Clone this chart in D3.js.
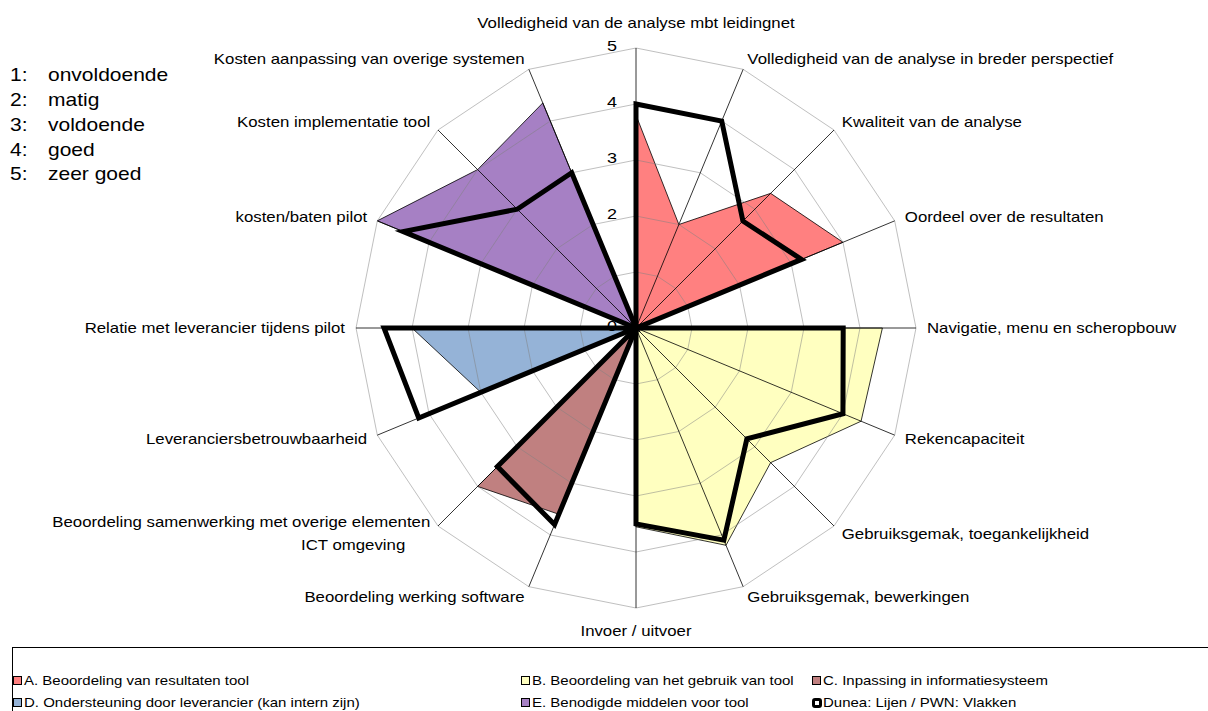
<!DOCTYPE html>
<html>
<head>
<meta charset="utf-8">
<script src="https://cdn.jsdelivr.net/npm/d3@7"></script>
<style>
  body { margin: 0; background: #fff; }
  svg { display: block; font-family: "Liberation Sans", Arial, sans-serif; }
</style>
</head>
<body>
<div id="chart"></div>
<script>
// axes of the radar, clockwise from the top
const axisLabels = [
  "Volledigheid van de analyse mbt leidingnet",
  "Volledigheid van de analyse in breder perspectief",
  "Kwaliteit van de analyse",
  "Oordeel over de resultaten",
  "Navigatie, menu en scheropbouw",
  "Rekencapaciteit",
  "Gebruiksgemak, toegankelijkheid",
  "Gebruiksgemak, bewerkingen",
  "Invoer / uitvoer",
  "Beoordeling werking software",
  ["Beoordeling samenwerking met overige elementen", "ICT omgeving"],
  "Leveranciersbetrouwbaarheid",
  "Relatie met leverancier tijdens pilot",
  "kosten/baten pilot",
  "Kosten implementatie tool",
  "Kosten aanpassing van overige systemen"
];
const ticks = [0, 1, 2, 3, 4, 5];
const tickLabels = [0, 2, 3, 4, 5];   // "1" is not shown in the original
const scoreNames = ["onvoldoende", "matig", "voldoende", "goed", "zeer goed"];

const groupNames = [
  "A. Beoordeling van resultaten tool",
  "B. Beoordeling van het gebruik van tool",
  "C. Inpassing in informatiesysteem",
  "D. Ondersteuning door leverancier (kan intern zijn)",
  "E. Benodigde middelen voor tool"
];
const groupColors = ["#FF8080", "#FFFFC0", "#C08080", "#95B3D7", "#A680C4"];
const groupStart = [0, 4, 9, 11, 13];   // first axis of each group

// PWN scores (filled areas)
const pwnA = [3.8, 2.0, 3.4, 4.0];
const pwnB = [4.4, 4.35, 3.4, 4.2, 3.55];
const pwnC = [3.6, 4.0];
const pwnD = [3.0, 4.0];
const pwnE = [5.0, 4.0, 4.35];

// Dunea scores (thick lines)
const duneaA = [4.0, 4.0, 2.7, 3.2];
const duneaB = [3.7, 4.0, 2.8, 4.1, 3.5];
const duneaC = [3.8, 3.5];
const duneaD = [4.2, 4.5];
const duneaE = [4.5, 3.0, 3.0];
const lineLegend = "Dunea: Lijen / PWN: Vlakken";

const pwn = [pwnA, pwnB, pwnC, pwnD, pwnE];
const dunea = [duneaA, duneaB, duneaC, duneaD, duneaE];

const width = 1208, height = 711;
const cx = 636, cy = 328, R = 280;
const n = axisLabels.length;
const sx = 1.2; // text is drawn a bit wider than the font

const svg = d3.select("#chart").append("svg")
  .attr("width", width).attr("height", height);

const r = d3.scaleLinear().domain([0, 5]).range([0, R]);
const angle = d3.scaleLinear().domain([0, n]).range([0, 2 * Math.PI]);

// put a group's values on the full circle, zero elsewhere
function spread(start, vals) {
  const a = new Array(n).fill(0);
  vals.forEach((v, i) => a[start + i] = v);
  return a;
}

function label(g, x, y, txt, anchor, size) {
  return g.append("text")
    .attr("transform", `translate(${x},${y}) scale(${sx},1)`)
    .attr("text-anchor", anchor)
    .attr("dy", "0.35em")
    .attr("font-size", size)
    .attr("fill", "#000")
    .text(txt);
}

const radar = svg.append("g").attr("transform", `translate(${cx},${cy})`);
const radial = d3.lineRadial()
  .angle((d, i) => angle(i))
  .radius(d => r(d))
  .curve(d3.curveLinearClosed);

// filled areas
radar.selectAll("path.area")
  .data(pwn)
  .join("path")
  .attr("class", "area")
  .attr("d", (d, i) => radial(spread(groupStart[i], d)))
  .attr("fill", (d, i) => groupColors[i])
  .attr("stroke", "#000")
  .attr("stroke-width", 0.8);

// grid rings
radar.selectAll("path.ring")
  .data(ticks.slice(1))
  .join("path")
  .attr("class", "ring")
  .attr("d", t => radial(new Array(n).fill(t)))
  .attr("fill", "none")
  .attr("stroke", "#808080")
  .attr("stroke-opacity", 0.5)
  .attr("stroke-width", 1);

// spokes
radar.selectAll("line.spoke")
  .data(d3.range(n))
  .join("line")
  .attr("class", "spoke")
  .attr("x1", 0).attr("y1", 0)
  .attr("x2", i => r(5) * Math.sin(angle(i)))
  .attr("y2", i => -r(5) * Math.cos(angle(i)))
  .attr("stroke", "#000")
  .attr("stroke-width", 0.8);

// tick labels on the vertical axis (under the lines)
tickLabels.forEach(t => label(svg, cx - 19, cy - r(t) - 2, t, "end", 15));

// Dunea lines
radar.selectAll("path.dunea")
  .data(dunea)
  .join("path")
  .attr("class", "dunea")
  .attr("d", (d, i) => radial(spread(groupStart[i], d)))
  .attr("fill", "none")
  .attr("stroke", "#000")
  .attr("stroke-width", 5)
  .attr("stroke-linejoin", "miter");

// axis labels
axisLabels.forEach((txt, i) => {
  const a = angle(i), s = Math.sin(a), c = Math.cos(a);
  let x = cx + (R + 11) * s, y = cy - (R + 11) * c;
  let anchor = "middle";
  if (s > 0.01) anchor = "start";
  else if (s < -0.01) anchor = "end";
  else y += c > 0 ? -14 : 12;
  if (Array.isArray(txt)) {
    label(svg, x, y - 11.5, txt[0], anchor, 14);
    label(svg, x - 25, y + 11.5, txt[1], anchor, 14);
  } else {
    label(svg, x, y, txt, anchor, 14);
  }
});

// score legend top left
scoreNames.forEach((name, i) => {
  const y = 75 + i * 24.8;
  label(svg, 10, y, (i + 1) + ":", "start", 17.5);
  label(svg, 48, y, name, "start", 17.5);
});

// legend box
const legend = svg.append("g");
legend.append("rect")
  .attr("x", 12.5).attr("y", 647.5)
  .attr("width", 1210).attr("height", 80)
  .attr("fill", "#fff").attr("stroke", "#000").attr("stroke-width", 1);

const colX = [13, 521, 812], rowY = [681, 703];
const legendItems = groupNames.map((name, i) => ({ name, color: groupColors[i] }))
  .concat([{ name: lineLegend, color: null }]);

legendItems.forEach((item, i) => {
  const x = colX[i % 3], y = rowY[Math.floor(i / 3)];
  if (item.color) {
    legend.append("rect")
      .attr("x", x + 0.5).attr("y", y - 4.5)
      .attr("width", 8).attr("height", 8)
      .attr("fill", item.color).attr("stroke", "#000").attr("stroke-width", 1);
  } else {
    legend.append("rect")
      .attr("x", x + 1.5).attr("y", y - 3.5)
      .attr("width", 7).attr("height", 7).attr("rx", 1.5)
      .attr("fill", "#fff").attr("stroke", "#000").attr("stroke-width", 3);
  }
  label(legend, x + 11, y, item.name, "start", 12.5);
});
</script>
</body>
</html>
